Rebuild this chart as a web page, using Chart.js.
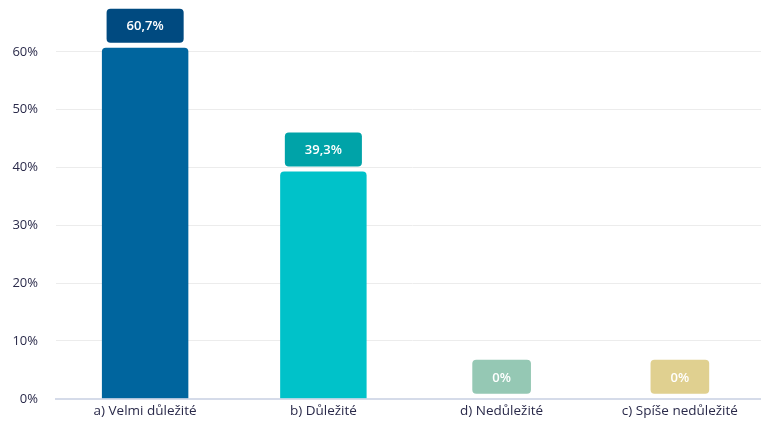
<!DOCTYPE html>
<html><head><meta charset="utf-8">
<script src="https://cdn.jsdelivr.net/npm/chart.js@4"></script>
<style>html,body{margin:0;padding:0;background:#fff;overflow:hidden}#wrap{width:772px;height:427px;position:relative}</style>
</head><body><div id="wrap"><canvas id="c"></canvas></div>
<script>
const categories = ['a) Velmi důležité', 'b) Důležité', 'd) Nedůležité', 'c) Spíše nedůležité'];
const values = [60.7, 39.3, 0, 0];
const valueLabels = ['60,7%', '39,3%', '0%', '0%'];
const barColors = ['#00659e', '#00c2c9', '#95c8b4', '#e0d090'];
const labelColors = ['#004a80', '#00a3a8', '#95c8b4', '#e0d090'];
const yTicks = [0, 10, 20, 30, 40, 50, 60];

const labelPlugin = {
  id: 'boxLabels',
  afterDatasetsDraw(chart) {
    const ctx = chart.ctx;
    const meta = chart.getDatasetMeta(0);
    ctx.save();
    ctx.font = '600 13px "Open Sans", sans-serif';
    ctx.textAlign = 'center';
    ctx.textBaseline = 'middle';
    meta.data.forEach((bar, i) => {
      const txt = valueLabels[i];
      const w = ctx.measureText(txt).width + 40;
      const h = 34;
      const x = bar.x - w / 2;
      const y = bar.y - 5 - h;
      ctx.fillStyle = labelColors[i];
      ctx.beginPath();
      ctx.roundRect(x, y, w, h, 4);
      ctx.fill();
      ctx.fillStyle = '#ffffff';
      ctx.fillText(txt, bar.x, y + h / 2 + 1);
    });
    ctx.restore();
  }
};

new Chart(document.getElementById('c'), {
  type: 'bar',
  data: {
    labels: categories,
    datasets: [{
      data: values,
      backgroundColor: barColors,
      borderRadius: {topLeft: 4, topRight: 4, bottomLeft: 0, bottomRight: 0},
      borderSkipped: 'bottom',
      barPercentage: 0.485,
      categoryPercentage: 1
    }]
  },
  options: {
    responsive: true,
    maintainAspectRatio: false,
    animation: false,
    layout: {padding: {top: 0, right: 3, bottom: 4, left: 0}},
    plugins: {legend: {display: false}, tooltip: {enabled: false}},
    scales: {
      x: {
        grid: {display: false, drawTicks: false},
        border: {color: '#d5dbe9', width: 2},
        ticks: {color: '#2a2a4a', font: {family: '"Open Sans", sans-serif', size: 13.5}, padding: 4, maxRotation: 0}
      },
      y: {
        min: 0, max: 64.5,
        afterBuildTicks(axis) { axis.ticks = yTicks.map(v => ({value: v})); },
        afterFit(axis) { axis.width = 56; },
        grid: {color: '#ececec', drawTicks: false},
        border: {display: false},
        ticks: {color: '#2a2a4a', font: {family: '"Open Sans", sans-serif', size: 13}, padding: 18,
          callback: v => v + '%'}
      }
    }
  },
  plugins: [labelPlugin]
});
</script></body></html>
